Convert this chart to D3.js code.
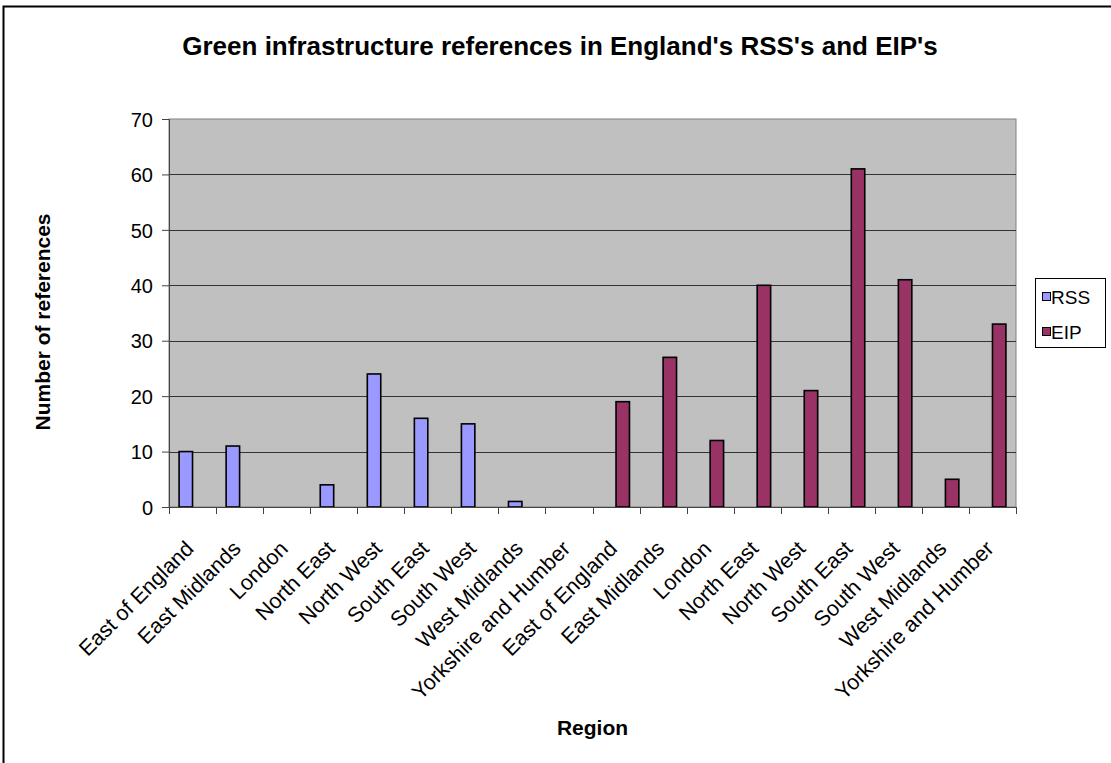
<!DOCTYPE html>
<html>
<head>
<meta charset="utf-8">
<script src="https://cdn.jsdelivr.net/npm/d3@7"></script>
<style>
  html, body { margin: 0; padding: 0; background: #fff; overflow: hidden; }
  svg { display: block; }
  text { font-family: Arial, "Liberation Sans", sans-serif; fill: #000; }
</style>
</head>
<body>
<svg id="chart" width="1111" height="763"></svg>
<script>
// Regions, listed once per plan type
const regions = ["East of England", "East Midlands", "London", "North East", "North West",
                 "South East", "South West", "West Midlands", "Yorkshire and Humber"];
// Green infrastructure references per region
const rssCounts = [10, 11, 0, 4, 24, 16, 15, 1, 0];
const eipCounts = [19, 27, 12, 40, 21, 61, 41, 5, 33];
const seriesNames = ["RSS", "EIP"];
const seriesColors = ["#9999FF", "#993366"];
const yTicks = [0, 10, 20, 30, 40, 50, 60, 70];

// The category axis holds the RSS regions followed by the EIP regions
const categories = regions.map((r, i) => ({ key: "RSS-" + i, label: r }))
  .concat(regions.map((r, i) => ({ key: "EIP-" + i, label: r })));

const rows = [];
regions.forEach((r, i) => rows.push({ cat: "RSS-" + i, series: "RSS", value: rssCounts[i] }));
regions.forEach((r, i) => rows.push({ cat: "EIP-" + i, series: "EIP", value: eipCounts[i] }));

const svg = d3.select("#chart");
const plot = { left: 169, right: 1016, top: 119, bottom: 507 };

// outer chart frame
svg.append("rect")
  .attr("x", 3.5).attr("y", 6.5).attr("width", 1200).attr("height", 900)
  .attr("fill", "#fff").attr("stroke", "#000").attr("stroke-width", 2);

const x = d3.scaleBand().domain(categories.map(c => c.key))
  .range([plot.left, plot.right]).paddingInner(0).paddingOuter(0);
const xSeries = d3.scaleBand().domain(seriesNames)
  .range([0, x.bandwidth()]).paddingInner(0).paddingOuter(0.75);
const y = d3.scaleLinear().domain([0, 70]).range([plot.bottom, plot.top]);
const color = d3.scaleOrdinal().domain(seriesNames).range(seriesColors);

// plot area background
svg.append("rect")
  .attr("x", plot.left).attr("y", plot.top)
  .attr("width", plot.right - plot.left).attr("height", plot.bottom - plot.top)
  .attr("fill", "#C0C0C0").attr("stroke", "#808080").attr("stroke-width", 1);

// horizontal gridlines
svg.append("g").selectAll("line")
  .data(yTicks.filter(t => t > 0 && t < 70))
  .join("line")
  .attr("x1", plot.left).attr("x2", plot.right)
  .attr("y1", d => Math.round(y(d)) + 0.5).attr("y2", d => Math.round(y(d)) + 0.5)
  .attr("stroke", "#333").attr("stroke-width", 1);

// bars
svg.append("g").selectAll("rect")
  .data(rows.filter(d => d.value > 0))
  .join("rect")
  .attr("x", d => x(d.cat) + xSeries(d.series))
  .attr("y", d => y(d.value))
  .attr("width", xSeries.bandwidth())
  .attr("height", d => y(0) - y(d.value))
  .attr("fill", d => color(d.series))
  .attr("stroke", "#000").attr("stroke-width", 1.6);

// y axis
const yAxis = svg.append("g")
  .attr("transform", `translate(${plot.left},0)`)
  .call(d3.axisLeft(y).tickValues(yTicks).tickSize(7).tickPadding(9).tickFormat(d3.format("d")));
yAxis.select(".domain").attr("stroke", "#444");
yAxis.selectAll(".tick line").attr("stroke", "#444");
yAxis.selectAll(".tick text").style("font-size", "20px").attr("dy", "0.36em");

// x axis with ticks on category boundaries
const xAxis = svg.append("g").attr("transform", `translate(0,${plot.bottom})`);
xAxis.append("line")
  .attr("x1", plot.left).attr("x2", plot.right).attr("y1", 0.5).attr("y2", 0.5)
  .attr("stroke", "#444");
const boundaries = categories.map(c => x(c.key)).concat([plot.right]);
xAxis.selectAll("line.tick").data(boundaries).join("line")
  .attr("class", "tick")
  .attr("x1", d => Math.round(d) + 0.5).attr("x2", d => Math.round(d) + 0.5)
  .attr("y1", 0).attr("y2", 7).attr("stroke", "#444");
xAxis.selectAll("text").data(categories).join("text")
  .attr("transform", d => `translate(${x(d.key) + x.bandwidth() / 2 + 2.5},${43}) rotate(-45)`)
  .attr("text-anchor", "end")
  .style("font-size", "21.5px")
  .text(d => d.label);

// titles
svg.append("text")
  .attr("x", 560).attr("y", 55).attr("text-anchor", "middle")
  .style("font-size", "26px").style("font-weight", "bold")
  .text("Green infrastructure references in England's RSS's and EIP's");

svg.append("text")
  .attr("transform", "translate(50,322) rotate(-90)")
  .attr("text-anchor", "middle")
  .style("font-size", "21px").style("font-weight", "bold")
  .text("Number of references");

svg.append("text")
  .attr("x", (plot.left + plot.right) / 2).attr("y", 735).attr("text-anchor", "middle")
  .style("font-size", "21px").style("font-weight", "bold")
  .text("Region");

// legend
const legend = svg.append("g").attr("transform", "translate(1035,278)");
legend.append("rect").attr("x", 0.5).attr("y", 0.5).attr("width", 70).attr("height", 69)
  .attr("fill", "#fff").attr("stroke", "#000").attr("stroke-width", 1);
const item = legend.selectAll("g.item").data(seriesNames).join("g")
  .attr("class", "item")
  .attr("transform", (d, i) => `translate(0,${19 + i * 35})`);
item.append("rect").attr("x", 7.5).attr("y", -4.5).attr("width", 8).attr("height", 8)
  .attr("fill", d => color(d)).attr("stroke", "#000").attr("stroke-width", 1);
item.append("text").attr("x", 16).attr("y", 6.5)
  .style("font-size", "19px").text(d => d);
</script>
</body>
</html>
